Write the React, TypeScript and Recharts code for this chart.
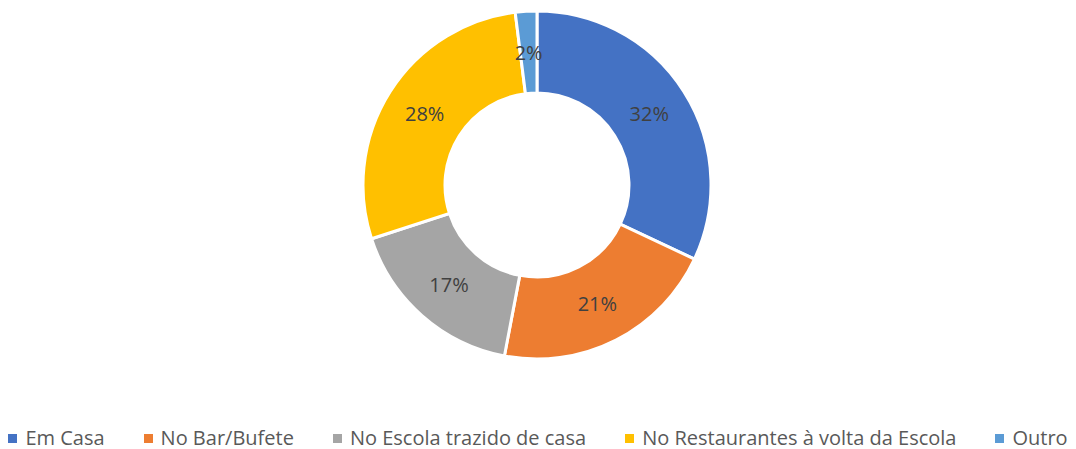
import { Cell, Legend, Pie, PieChart } from "recharts"

const categories = [
  "Em Casa",
  "No Bar/Bufete",
  "No Escola trazido de casa",
  "No Restaurantes à volta da Escola",
  "Outro",
]
const values = [32, 21, 17, 28, 2]
const colors = ["#4472C4", "#ED7D31", "#A5A5A5", "#FFC000", "#5B9BD5"]

const data = categories.map((name, i) => ({ name, value: values[i] }))

const RADIAN = Math.PI / 180

function renderLabel(props: any) {
  const { cx, cy, midAngle, innerRadius, outerRadius, value } = props
  const r = (innerRadius + outerRadius) / 2
  const x = cx + r * Math.cos(-midAngle * RADIAN)
  const y = cy + r * Math.sin(-midAngle * RADIAN)
  return (
    <text
      x={x}
      y={y}
      fill="#404040"
      fontSize={20}
      textAnchor="middle"
      dominantBaseline="central"
    >
      {value}%
    </text>
  )
}

function renderLegend() {
  return (
    <div
      style={{
        display: "flex",
        justifyContent: "center",
        gap: 39,
        fontSize: 20,
        lineHeight: "20px",
        height: 20,
        color: "#595959",
        whiteSpace: "nowrap",
      }}
    >
      {categories.map((c, i) => (
        <span key={c} style={{ display: "flex", alignItems: "center", gap: 8 }}>
          <span
            style={{ width: 9, height: 9, background: colors[i], display: "inline-block" }}
          />
          {c}
        </span>
      ))}
    </div>
  )
}

export default function App() {
  return (
    <div
      style={{
        position: "absolute",
        top: 0,
        left: 0,
        width: 1076,
        height: 449,
        background: "#fff",
        fontFamily: "'Open Sans', sans-serif",
      }}
    >
      <PieChart width={1076} height={449} margin={{ top: 0, right: 0, bottom: 0, left: 0 }}>
        <Pie
          data={data}
          dataKey="value"
          nameKey="name"
          cx={537}
          cy={185}
          innerRadius={92}
          outerRadius={174}
          startAngle={90}
          endAngle={-270}
          stroke="#fff"
          strokeWidth={3}
          label={renderLabel}
          labelLine={false}
          isAnimationActive={false}
        >
          {data.map((d, i) => (
            <Cell key={d.name} fill={colors[i]} />
          ))}
        </Pie>
        <Legend
          content={renderLegend}
          verticalAlign="bottom"
          wrapperStyle={{ left: 0, width: 1076, top: 428, bottom: "auto", height: 20 }}
        />
      </PieChart>
    </div>
  )
}
